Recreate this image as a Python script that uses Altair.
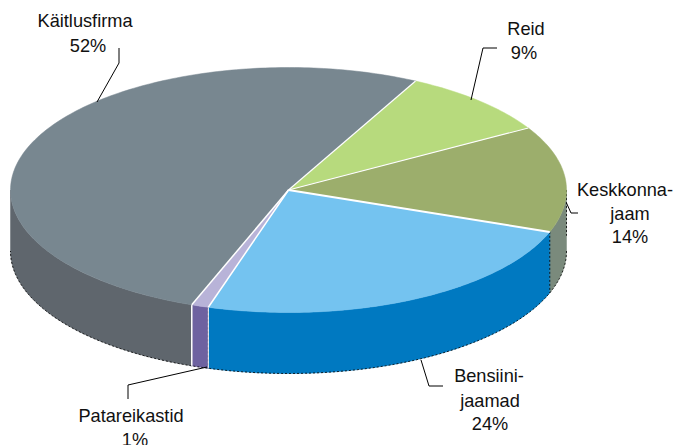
import math
import altair as alt
import pandas as pd

names = ["Reid", "Keskkonna-jaam", "Bensiini-jaamad", "Patareikastid", "Käitlusfirma"]
values = [9, 14, 24.1, 1, 51.9]
top_colors = ["#b7da7d", "#9cae6c", "#74c3f0", "#b8b3d8", "#788790"]
wall_colors = ["#7d8f80", "#7a8a7c", "#0079c1", "#6e62a0", "#5f666d"]

label_lines = ["Käitlusfirma", "52%", "Reid", "9%", "Keskkonna-", "jaam", "14%",
               "Bensiini-", "jaamad", "24%", "Patareikastid", "1%"]
label_x = [85, 88, 526, 524, 625, 630, 630, 489, 490, 490, 131, 135]
label_y = [22, 47, 30, 54, 191, 215, 238, 377, 402, 425, 417, 441]

leaders = [
    [(119, 48), (119, 63), (97, 102)],
    [(497, 48), (483, 48), (471, 100)],
    [(566.5, 203), (571, 213), (578, 213)],
    [(421, 360), (429, 386), (443, 386)],
    [(128, 399), (128, 385), (207, 367)],
]

CX, CY, RX, RY, DEPTH = 288.5, 190.0, 278.0, 122.5, 61.0
START = 27.2
W, H = 666, 437

x_scale = alt.Scale(domain=[8, 8 + W], range=[0, W])
y_scale = alt.Scale(domain=[8, 8 + H], range=[0, H])


def pt(deg, dy=0.0):
    t = math.radians(deg)
    return (CX + RX * math.sin(t), CY - RY * math.cos(t) + dy)


def arc(a, b, dy=0.0):
    n = max(2, int(abs(b - a)) + 1)
    return [pt(a + (b - a) * i / n, dy) for i in range(n + 1)]


def path(points):
    return pd.DataFrame([{"x": p[0], "y": p[1], "i": i} for i, p in enumerate(points)])


def shape(points, **mark):
    return alt.Chart(path(points)).mark_line(**mark).encode(
        x=alt.X("x:Q", scale=x_scale, axis=None),
        y=alt.Y("y:Q", scale=y_scale, axis=None),
        order=alt.Order("i:Q"),
    )


# slice boundaries follow from the values
bounds = [START]
for v in values:
    bounds.append(bounds[-1] + v * 3.6)

layers = []

# side walls of the front half, back to front
walls = []
for k in range(len(values)):
    a, b = max(bounds[k], 90), min(bounds[k + 1], 270)
    if a < b:
        walls.append((k, a, b))
for k, a, b in walls:
    poly = arc(a, b) + arc(b, a, DEPTH)
    poly.append(poly[0])
    layers.append(shape(poly, fill=wall_colors[k], stroke=wall_colors[k], strokeWidth=0.5))

# dotted outline of the walls
layers.append(shape(arc(90, 270, DEPTH), stroke="#000000", strokeWidth=0.8, strokeDash=[2, 2]))
layers.append(shape([pt(90), pt(90, DEPTH * 0.75)], stroke="#000000", strokeWidth=0.8, strokeDash=[2, 2]))
layers.append(shape([pt(bounds[2]), pt(bounds[2], DEPTH)], stroke="#000000", strokeWidth=0.8, strokeDash=[2, 2]))
layers.append(shape([pt(bounds[3]), pt(bounds[3], DEPTH)], stroke="#000000", strokeWidth=0.8, strokeDash=[2, 2]))
layers.append(shape([pt(bounds[4]), pt(bounds[4], DEPTH)], stroke="#ffffff", strokeWidth=1.5))
layers.append(shape([pt(bounds[3]), pt(bounds[3], DEPTH)], stroke="#ffffff", strokeWidth=1.0))

# top faces
centre = (CX, CY)
for k in range(len(values)):
    poly = [centre] + arc(bounds[k], bounds[k + 1]) + [centre]
    layers.append(shape(poly, fill=top_colors[k], stroke=top_colors[k], strokeWidth=0.5))

# white separators between slices
separator_width = [1.2, 1.2, 2.0, 1.5, 1.5]
for k in range(len(values)):
    layers.append(shape([centre, pt(bounds[k])], stroke="#ffffff", strokeWidth=separator_width[k]))

# leader lines
for line in leaders:
    layers.append(shape(line, stroke="#000000", strokeWidth=1.0))

# labels
labels = pd.DataFrame({"t": label_lines, "x": label_x, "y": label_y})
layers.append(
    alt.Chart(labels).mark_text(font="Liberation Sans", fontSize=18.2, color="#111111",
                                align="center", baseline="middle").encode(
        x=alt.X("x:Q", scale=x_scale, axis=None),
        y=alt.Y("y:Q", scale=y_scale, axis=None),
        text="t:N",
    )
)

chart = alt.layer(*layers).properties(
    width=W, height=H, padding=0, autosize="none", background="#ffffff"
).configure_view(stroke=None)

chart.save("out.html", embed_options={"renderer": "svg", "actions": False})
